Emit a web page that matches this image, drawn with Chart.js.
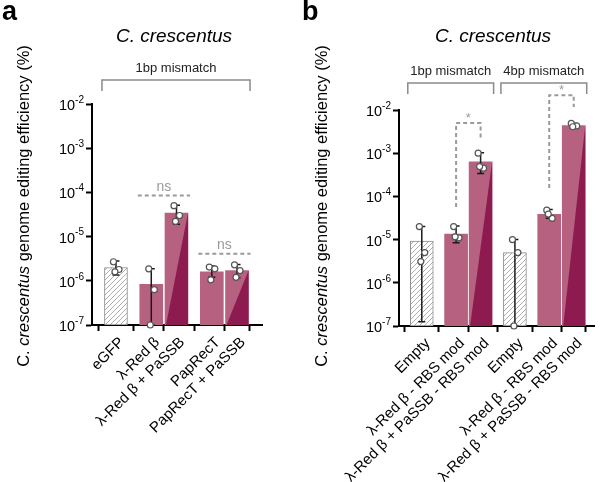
<!DOCTYPE html>
<html><head><meta charset="utf-8">
<script src="https://cdn.jsdelivr.net/npm/chart.js@4.4.1/dist/chart.umd.min.js"></script>
<style>
body{margin:0;background:#fff}
#wrap{position:relative;width:600px;height:482px;overflow:hidden}
canvas{position:absolute;top:0}
</style></head>
<body><div id="wrap">
<canvas id="ca" width="300" height="482" style="left:0"></canvas>
<canvas id="cb" width="300" height="482" style="left:300px"></canvas>
</div>
<script>
// ---------- DATA ----------
const catsA = ['eGFP', 'λ-Red β', 'λ-Red β + PaSSB', 'PapRecT', 'PapRecT + PaSSB'];
const kindA = ['ctrl', 'single', 'combo', 'single', 'combo'];
const meanA = [2.0e-6, 8.3e-7, 3.4e-5, 1.6e-6, 1.7e-6];
const loA   = [1.36e-6, 1e-7, 1.9e-5, 1.2e-6, 1.17e-6];
const hiA   = [2.8e-6, 1.87e-6, 5.1e-5, 2.15e-6, 2.33e-6];
const repA  = [[2.7e-6, 1.8e-6, 1.6e-6], [1.87e-6, 6.3e-7, 1e-7], [5.0e-5, 3.0e-5, 2.2e-5], [2.04e-6, 1.87e-6, 1.05e-6], [2.3e-6, 1.7e-6, 1.2e-6]];
const groupsA = [{label: '1bp mismatch', from: 0, to: 4}];
const nsA = [{from: 1, to: 2, level: 8.5e-5, text: 'ns'}, {from: 3, to: 4, level: 4.1e-6, text: 'ns'}];

const catsB = ['Empty', 'λ-Red β - RBS mod', 'λ-Red β + PaSSB - RBS mod', 'Empty', 'λ-Red β - RBS mod', 'λ-Red β + PaSSB - RBS mod'];
const kindB = ['ctrl', 'single', 'combo', 'ctrl', 'single', 'combo'];
const meanB = [9.3e-6, 1.35e-5, 6.35e-4, 5.0e-6, 3.86e-5, 4.33e-3];
const loB   = [1.26e-7, 8.5e-6, 3.4e-4, 1e-7, 3.1e-5, 3.77e-3];
const hiB   = [2.0e-5, 2.07e-5, 1.03e-3, 1.0e-5, 5.0e-5, 4.9e-3];
const repB  = [[2.0e-5, 5.0e-6, 3.1e-6], [2.0e-5, 1.1e-5, 1.16e-5], [1.0e-3, 4.5e-4, 4.9e-4], [1.0e-5, 5.0e-6, 1e-7], [4.8e-5, 3.1e-5, 3.9e-5], [4.9e-3, 4.27e-3, 4.1e-3]];
const groupsB = [{label: '1bp mismatch', from: 0, to: 2}, {label: '4bp mismatch', from: 3, to: 5}];
const starB = [{from: 1, to: 2, top: 5.0e-3, leftEnd: 5.7e-5, rightEnd: 2.25e-3, text: '*'},
               {from: 4, to: 5, top: 2.2e-2, leftEnd: 1.56e-4, rightEnd: 1.17e-2, text: '*'}];

const yTicks = [1e-7, 1e-6, 1e-5, 1e-4, 1e-3, 1e-2];
const yTickExp = ['-7', '-6', '-5', '-4', '-3', '-2'];
const speciesTitle = 'C. crescentus';

// ---------- STYLE ----------
const FONT = '"Liberation Sans", Arial, sans-serif';
const LIGHT = '#b5617f';
const DARK = '#8e1b50';
const GREY = '#9a9a9a';

function positions(kinds) {
  const xs = [0];
  for (let i = 1; i < kinds.length; i++) {
    const step = (kinds[i] === 'combo' && kinds[i - 1] === 'single') ? 1 : 1.4;
    xs.push(xs[i - 1] + step);
  }
  return xs;
}

function hatchPattern() {
  const c = document.createElement('canvas');
  c.width = 5; c.height = 5;
  const g = c.getContext('2d');
  g.fillStyle = '#fff'; g.fillRect(0, 0, 5, 5);
  g.strokeStyle = '#adadad'; g.lineWidth = 1;
  g.beginPath();
  g.moveTo(-1, 6); g.lineTo(6, -1);
  g.moveTo(-1, 1); g.lineTo(1, -1);
  g.moveTo(4, 6); g.lineTo(6, 4);
  g.stroke();
  return g.createPattern(c, 'repeat');
}

const jitter = [-0.1, 0.12, -0.04];

function makeChart(canvasId, P) {
  const xs = positions(P.kinds);
  const hatch = hatchPattern();
  const bars = P.means.map((v, i) => ({x: xs[i], y: v}));
  const pts = [];
  P.reps.forEach((r, i) => r.forEach((v, j) => pts.push({x: xs[i] + jitter[j], y: v})));

  const extras = {
    id: 'extras',
    afterDatasetDraw(chart, args) {
      if (args.index !== 0) return;
      const ctx = chart.ctx, ys = chart.scales.y;
      args.meta.data.forEach((bar, i) => {
        const p = bar.getProps(['x', 'y', 'base', 'width'], true);
        const l = p.x - p.width / 2, r = p.x + p.width / 2;
        ctx.save();
        if (P.kinds[i] === 'combo') {
          ctx.fillStyle = DARK;
          ctx.beginPath();
          ctx.moveTo(r, p.y); ctx.lineTo(r, p.base); ctx.lineTo(l + 1, p.base);
          ctx.closePath(); ctx.fill();
        }
        const yl = ys.getPixelForValue(Math.max(P.lo[i], ys.min));
        const yh = ys.getPixelForValue(P.hi[i]);
        ctx.strokeStyle = '#1a1a1a'; ctx.lineWidth = 1.5;
        ctx.beginPath();
        ctx.moveTo(p.x, yl); ctx.lineTo(p.x, yh);
        ctx.moveTo(p.x - 3.5, yh); ctx.lineTo(p.x + 3.5, yh);
        ctx.moveTo(p.x - 3.5, yl); ctx.lineTo(p.x + 3.5, yl);
        ctx.stroke();
        ctx.restore();
      });
    },
    afterDraw(chart) {
      const ctx = chart.ctx, xsc = chart.scales.x, ys = chart.scales.y, ca = chart.chartArea;
      ctx.save();
      // panel letter
      ctx.fillStyle = '#000';
      ctx.font = 'bold 27px ' + FONT;
      ctx.textAlign = 'left'; ctx.textBaseline = 'alphabetic';
      ctx.fillText(P.letter, 2, 20);
      // species title
      ctx.font = 'italic 19px ' + FONT;
      ctx.textAlign = 'center'; ctx.textBaseline = 'middle';
      ctx.fillText(speciesTitle, P.titleX, 37);
      // y tick labels with superscript
      ctx.textBaseline = 'middle';
      yTicks.forEach((v, i) => {
        const y = ys.getPixelForValue(v);
        const right = ca.left - 8;
        ctx.font = '10px ' + FONT;
        const sw = ctx.measureText(yTickExp[i]).width;
        ctx.textAlign = 'right';
        ctx.fillText(yTickExp[i], right, y - 4);
        ctx.font = '14.5px ' + FONT;
        ctx.fillText('10', right - sw, y + 2);
      });
      // x category labels, rotated 45 degrees
      ctx.font = '15px ' + FONT;
      ctx.textAlign = 'right'; ctx.textBaseline = 'middle';
      xs.forEach((v, i) => {
        const px = xsc.getPixelForValue(v);
        ctx.save();
        ctx.translate(px + 6, ca.bottom + 15);
        ctx.rotate(-Math.PI / 4);
        ctx.fillText(P.cats[i], 0, 0);
        ctx.restore();
      });
      // y axis title (mixed italic)
      const parts = [['C. ', ''], ['crescentus', 'italic '], [' genome editing efficiency (%)', '']];
      let total = 0;
      parts.forEach(pp => { ctx.font = pp[1] + '16.5px ' + FONT; total += ctx.measureText(pp[0]).width; });
      ctx.translate(P.yTitleX, P.yTitleY);
      ctx.rotate(-Math.PI / 2);
      ctx.textAlign = 'left'; ctx.textBaseline = 'middle';
      let cx = -total / 2;
      parts.forEach(pp => { ctx.font = pp[1] + '16.5px ' + FONT; ctx.fillText(pp[0], cx, 0); cx += ctx.measureText(pp[0]).width; });
      ctx.setTransform(1, 0, 0, 1, 0, 0);
      // group brackets
      P.groups.forEach(g => {
        const x0 = xsc.getPixelForValue(xs[g.from]) - 14;
        const x1 = xsc.getPixelForValue(xs[g.to]) + 13;
        ctx.strokeStyle = '#8a8a8a'; ctx.lineWidth = 1.5; ctx.setLineDash([]);
        ctx.beginPath();
        ctx.moveTo(x0, P.brY + 11); ctx.lineTo(x0, P.brY); ctx.lineTo(x1, P.brY); ctx.lineTo(x1, P.brY + 11);
        ctx.stroke();
        ctx.fillStyle = '#222'; ctx.font = '13px ' + FONT; ctx.textAlign = 'center'; ctx.textBaseline = 'middle';
        ctx.fillText(g.label, (x0 + x1) / 2, P.brY - 12);
      });
      // ns lines
      (P.ns || []).forEach(s => {
        const half = 11.5;
        const x0 = xsc.getPixelForValue(xs[s.from]) - half - 2;
        const x1 = xsc.getPixelForValue(xs[s.to]) + half + 2;
        const y = ys.getPixelForValue(s.level);
        ctx.strokeStyle = GREY; ctx.lineWidth = 2; ctx.setLineDash([4, 3]);
        ctx.beginPath(); ctx.moveTo(x0, y); ctx.lineTo(x1, y); ctx.stroke();
        ctx.setLineDash([]);
        ctx.fillStyle = GREY; ctx.font = '14px ' + FONT; ctx.textAlign = 'center'; ctx.textBaseline = 'alphabetic';
        ctx.fillText(s.text, (x0 + x1) / 2, y - 5);
      });
      // star brackets
      (P.stars || []).forEach(s => {
        const x0 = xsc.getPixelForValue(xs[s.from]);
        const x1 = xsc.getPixelForValue(xs[s.to]);
        const yt = ys.getPixelForValue(s.top);
        ctx.strokeStyle = GREY; ctx.lineWidth = 2; ctx.setLineDash([4, 3]);
        ctx.beginPath();
        ctx.moveTo(x0, ys.getPixelForValue(s.leftEnd)); ctx.lineTo(x0, yt); ctx.lineTo(x1, yt);
        ctx.lineTo(x1, ys.getPixelForValue(s.rightEnd));
        ctx.stroke();
        ctx.setLineDash([]);
        ctx.fillStyle = GREY; ctx.font = '13px ' + FONT; ctx.textAlign = 'center'; ctx.textBaseline = 'middle';
        ctx.fillText(s.text, (x0 + x1) / 2, yt - 5);
      });
      ctx.restore();
    }
  };

  return new Chart(document.getElementById(canvasId), {
    type: 'bar',
    data: {
      datasets: [
        {
          type: 'bar', data: bars, order: 2, barThickness: 23,
          backgroundColor: P.kinds.map(k => k === 'ctrl' ? hatch : LIGHT),
          borderColor: P.kinds.map(k => k === 'ctrl' ? '#8c8c8c' : LIGHT),
          borderWidth: P.kinds.map(k => k === 'ctrl' ? 1 : 0),
          borderSkipped: false
        },
        {
          type: 'scatter', data: pts, order: 0, clip: false,
          pointRadius: 3, pointBorderWidth: 1.2,
          pointBackgroundColor: '#fff', pointBorderColor: '#555'
        }
      ]
    },
    options: {
      responsive: false, animation: false,
      layout: {padding: {left: P.padL, right: P.padR, top: P.padT, bottom: 0}},
      plugins: {legend: {display: false}, tooltip: {enabled: false}},
      scales: {
        x: {
          type: 'linear', min: P.xmin, max: P.xmax, offset: false,
          afterBuildTicks: s => { s.ticks = xs.map(v => ({value: v})); },
          afterFit: s => { s.height = P.xH; },
          grid: {display: true, drawOnChartArea: false, drawTicks: true, tickLength: 6, tickWidth: 2, tickColor: '#000'},
          border: {display: true, color: '#000', width: 2},
          ticks: {display: false}
        },
        y: {
          type: 'logarithmic', min: 1e-7, max: 1e-2,
          afterBuildTicks: s => { s.ticks = yTicks.map(v => ({value: v})); },
          afterFit: s => { s.width = 40; },
          grid: {display: true, drawOnChartArea: false, drawTicks: true, tickLength: 6, tickWidth: 2, tickColor: '#000'},
          border: {display: true, color: '#000', width: 2},
          ticks: {display: false}
        }
      }
    },
    plugins: [extras]
  });
}

makeChart('ca', {
  cats: catsA, kinds: kindA, means: meanA, lo: loA, hi: hiA, reps: repA, groups: groupsA, ns: nsA,
  letter: 'a', titleX: 174, yTitleX: 24, yTitleY: 206, brY: 80,
  padL: 52, padR: 38, padT: 104, xH: 157, xmin: -0.95, xmax: 5.79
});
makeChart('cb', {
  cats: catsB, kinds: kindB, means: meanB, lo: loB, hi: hiB, reps: repB, groups: groupsB, stars: starB,
  letter: 'b', titleX: 193, yTitleX: 22, yTitleY: 206, brY: 83,
  padL: 59, padR: 3, padT: 110, xH: 156, xmin: -0.93, xmax: 7.06
});
</script>
</body></html>
